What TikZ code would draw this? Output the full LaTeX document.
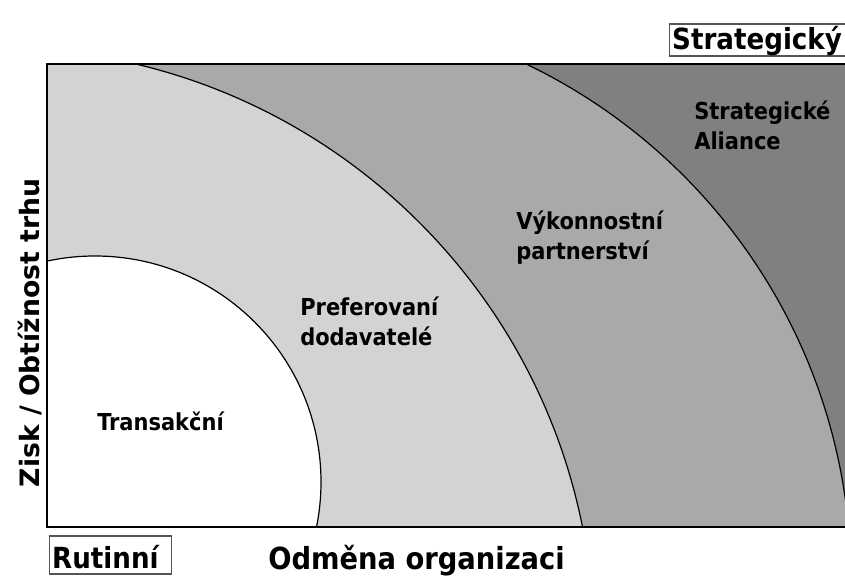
\documentclass[tikz,border=0pt]{standalone}
\usepackage{fontspec}
\setmainfont{DejaVu Sans}
\newfontfamily\condbold{DejaVu Sans Condensed Bold}
\newfontfamily\widebold{DejaVu Sans Bold}
\definecolor{zoneDark}{HTML}{808080}
\definecolor{zoneMid}{HTML}{A9A9A9}
\definecolor{zoneLight}{HTML}{D3D3D3}
\definecolor{frameGray}{HTML}{555555}
\tikzset{
  zone/.style={draw=black, line width=0.9pt},
  zonelabel/.style={font=\condbold\fontsize{17.5pt}{22.5pt}\selectfont, align=left, inner sep=0pt, anchor=base west},
  cornerbox/.style={draw=frameGray, line width=0.8pt, font=\condbold\fontsize{21.8pt}{26pt}\selectfont, inner xsep=2pt, inner ysep=0pt, anchor=base west},
  axislabel/.style={font=\condbold\fontsize{22.8pt}{26pt}\selectfont, inner sep=0pt}
}
\begin{document}
\begin{tikzpicture}[x=0.75pt,y=-0.75pt]
\useasboundingbox (0,0) rectangle (845,580);
\begin{scope}
  \clip (47,64) rectangle (852,527);
  \fill[zoneDark] (47,64) rectangle (852,527);
  \filldraw[zone, fill=zoneMid] (279,580) circle[radius=572];
  \filldraw[zone, fill=zoneLight] (-2,644) circle[radius=596];
  \filldraw[zone, fill=white] (95,482) circle[radius=226];
\end{scope}
\draw[line width=1.5pt] (47,64) rectangle (852,527);

\node[zonelabel] (alliance) at (694,150) {Strategické\\Aliance};
\node[zonelabel] (perf) at (516,260) {Výkonnostní\\partnerství};
\node[zonelabel] (pref) at (300,346) {Preferovaní\\dodavatelé};
\node[zonelabel] (trans) at (97,431) {Transakční};

\node[cornerbox, text height=19.5pt, text depth=4.5pt, text width=136pt, align=left] (strat) at (669,50) {Strategický};
\node[cornerbox, text height=24pt, text depth=4.5pt, text width=87.5pt, align=left] (rout) at (49,568) {Rutinní};

\node[axislabel, anchor=base west] (xlab) at (268,569) {Odměna organizaci};
\node[font=\widebold\fontsize{20pt}{24pt}\selectfont, inner sep=0pt, anchor=base, rotate=90] (ylab) at (39,333) {Zisk / Obtížnost trhu};
\end{tikzpicture}
\end{document}
